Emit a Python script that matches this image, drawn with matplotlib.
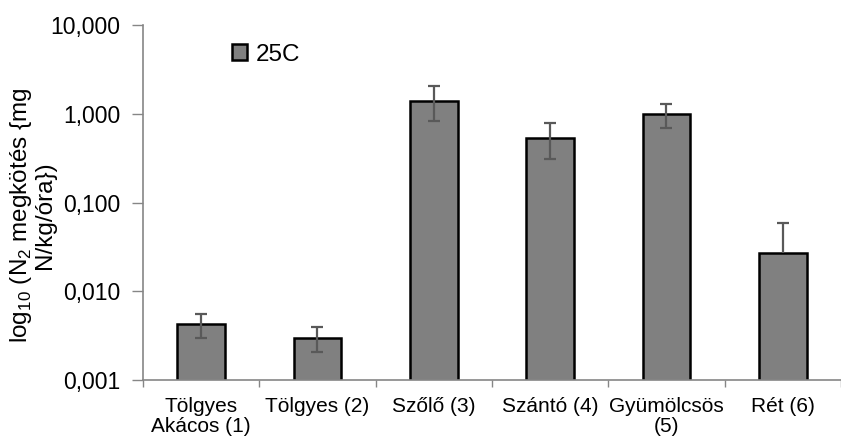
import matplotlib
matplotlib.use("Agg")
import matplotlib.pyplot as plt
import numpy as np
from matplotlib.ticker import FixedLocator, FuncFormatter, NullLocator

plt.rcParams["font.family"] = ["Liberation Sans", "DejaVu Sans"]
plt.rcParams["mathtext.fontset"] = "custom"
plt.rcParams["mathtext.rm"] = "Liberation Sans"

# data
categories = ["Tölgyes\nAkácos (1)", "Tölgyes (2)", "Szőlő (3)", "Szántó (4)",
              "Gyümölcsös\n(5)", "Rét (6)"]
values = [0.00426, 0.00299, 1.41, 0.533, 1.00, 0.0272]
err_upper = [0.00124, 0.00098, 0.64, 0.245, 0.28, 0.032]
err_lower = [0.0013, 0.00094, 0.58, 0.226, 0.31, 0.0]
series_name = "25C"

fig = plt.figure(figsize=(8.41, 4.37), dpi=100)
ax = fig.add_axes([0.170, 0.1304, 0.830, 0.8124])

x = np.arange(len(categories))
ax.bar(x, values, width=0.41, color="#808080", edgecolor="black",
       linewidth=1.8, label=series_name, zorder=2)
_, caps, _ = ax.errorbar(x, values, yerr=[err_lower, err_upper], fmt="none",
                         ecolor="#595959", elinewidth=1.6, capsize=4,
                         capthick=1.6, zorder=3)
# no lower cap where the lower error is missing (Excel drops it on log axis)
low = np.array(err_lower) > 0
caps[0].set_data(x[low], (np.array(values) - np.array(err_lower))[low])

ax.set_yscale("log")
ax.set_ylim(0.001, 10)
ax.set_xlim(-0.5, 5.41)
ax.yaxis.set_major_locator(FixedLocator([0.001, 0.01, 0.1, 1, 10]))
ax.yaxis.set_minor_locator(NullLocator())
ax.yaxis.set_major_formatter(FuncFormatter(lambda v, p: f"{v:.3f}".replace(".", ",")))

ax.set_xticks(x)
ax.set_xticklabels(categories, fontsize=15, linespacing=1.1)
ax.set_xticks([i + 0.5 for i in range(-1, len(categories))], minor=True)
ax.tick_params(axis="x", which="major", length=0, pad=12)
ax.tick_params(axis="x", which="minor", length=5, color="#868686", width=1)
ax.tick_params(axis="y", which="major", length=8, color="#868686", width=1,
               labelsize=16.5, pad=8)

for side in ["top", "right"]:
    ax.spines[side].set_visible(False)
for side in ["left", "bottom"]:
    ax.spines[side].set_color("#868686")
    ax.spines[side].set_linewidth(1.2)

ax.set_ylabel("log$_{10}$ (N$_2$ megkötés {mg\nN/kg/óra})", fontsize=17.5,
              linespacing=0.95, labelpad=-3.5)
ax.yaxis.label.set_y(0.465)

ax.legend(loc="upper left", bbox_to_anchor=(0.114, 0.975), frameon=False,
          fontsize=17.5, handlelength=0.6, handleheight=0.6, handletextpad=0.35,
          borderaxespad=0)

fig.savefig("out.png", dpi=100)
